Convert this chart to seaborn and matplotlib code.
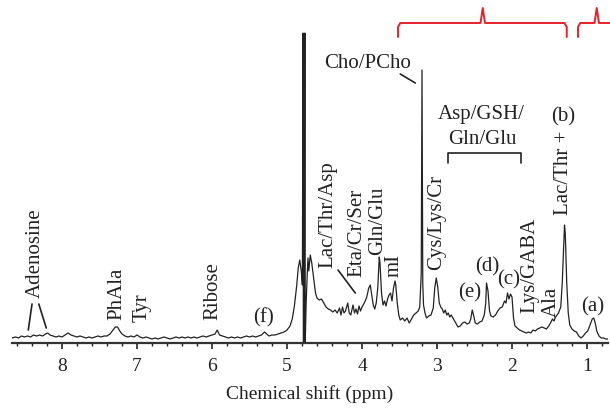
import numpy as np
import pandas as pd
import matplotlib
matplotlib.use("Agg")
import matplotlib.pyplot as plt
import seaborn as sns

# spectrum, region by region (ppm, intensity a.u.)
shift_arom = [8.67, 8.62, 8.58, 8.54, 8.50, 8.46, 8.42, 8.38, 8.34, 8.30, 8.26, 8.22, 8.19, 8.16,
              8.12, 8.08, 8.04, 8.00, 7.96, 7.92, 7.88, 7.84, 7.80, 7.76, 7.72, 7.68, 7.64, 7.60,
              7.56, 7.52, 7.48, 7.44, 7.40, 7.36, 7.32, 7.29, 7.26, 7.23, 7.20, 7.16, 7.12, 7.08,
              7.04, 7.00, 6.96, 6.92, 6.88, 6.84, 6.80, 6.76, 6.72, 6.68, 6.64, 6.60, 6.56, 6.52,
              6.48, 6.44, 6.40, 6.36, 6.32, 6.28, 6.24, 6.20, 6.16, 6.12, 6.08, 6.04, 6.00, 5.96,
              5.93, 5.90, 5.86, 5.82, 5.78, 5.74, 5.70, 5.66, 5.62, 5.58, 5.54, 5.50, 5.46, 5.42,
              5.38, 5.34, 5.30, 5.27, 5.24, 5.20, 5.16, 5.12, 5.08, 5.04, 5.00]
int_arom = [5, 6, 5, 7, 6, 7, 6, 8, 7, 8, 7, 9, 10, 8,
            7, 6, 7, 6, 8, 10, 8, 7, 6, 7, 6, 5, 6, 5,
            6, 7, 6, 7, 7, 9, 13, 16, 16, 12, 9, 7, 6, 7,
            6, 8, 6, 5, 6, 5, 4, 5, 4, 5, 6, 5, 4, 5,
            6, 5, 6, 5, 6, 5, 6, 5, 6, 7, 6, 7, 8, 9,
            13, 8, 7, 6, 5, 6, 5, 6, 5, 6, 7, 6, 7, 6,
            7, 8, 11, 9, 7, 8, 8, 9, 10, 11, 13]

shift_water = [4.96, 4.93, 4.90, 4.87, 4.85, 4.83, 4.81, 4.795, 4.787, 4.782, 4.770, 4.762,
               4.757, 4.745, 4.73, 4.72, 4.71, 4.69, 4.67]
int_water = [17, 24, 38, 58, 75, 83, 72, 58, 310, 0, 0, 310,
             0, 40, 70, 85, 72, 88, 80]

shift_mid = [4.65, 4.62, 4.60, 4.57, 4.54, 4.51, 4.48, 4.45, 4.42, 4.39, 4.36, 4.33, 4.30, 4.28,
             4.26, 4.24, 4.22, 4.19, 4.17, 4.15, 4.12, 4.10, 4.08, 4.06, 4.04, 4.02, 4.00, 3.97,
             3.94, 3.91, 3.89, 3.87, 3.85, 3.83, 3.81, 3.79, 3.77, 3.76, 3.74, 3.72, 3.70, 3.68,
             3.66, 3.64, 3.62, 3.60, 3.58, 3.56, 3.55, 3.53, 3.51, 3.49, 3.46, 3.43, 3.40, 3.37,
             3.34, 3.31, 3.28, 3.25, 3.23, 3.21, 3.20, 3.19, 3.18, 3.16, 3.14, 3.11, 3.08, 3.05,
             3.03, 3.01, 2.99, 2.97]
int_mid = [68, 50, 45, 43, 44, 40, 36, 34, 33, 31, 33, 30, 35, 28,
           36, 30, 32, 40, 30, 28, 38, 30, 34, 29, 37, 32, 36, 40,
           45, 55, 58, 48, 38, 34, 40, 55, 86, 80, 50, 38, 42, 37,
           44, 48, 50, 42, 55, 62, 58, 40, 28, 23, 25, 22, 25, 20,
           24, 28, 30, 32, 36, 70, 273, 60, 38, 30, 25, 27, 28, 35,
           55, 65, 56, 40]

shift_ali = [2.95, 2.93, 2.91, 2.89, 2.87, 2.85, 2.83, 2.81, 2.78, 2.75, 2.72, 2.69, 2.66, 2.63,
             2.60, 2.57, 2.55, 2.53, 2.51, 2.49, 2.46, 2.43, 2.40, 2.37, 2.35, 2.34, 2.32, 2.30,
             2.28, 2.25, 2.22, 2.19, 2.16, 2.13, 2.10, 2.08, 2.06, 2.04, 2.02, 2.00, 1.98, 1.96,
             1.93, 1.90, 1.87, 1.84, 1.81, 1.78, 1.75, 1.72, 1.69, 1.66, 1.63, 1.60, 1.57, 1.54,
             1.51, 1.48, 1.46, 1.44, 1.42, 1.40, 1.38, 1.35, 1.33, 1.31, 1.30, 1.29, 1.27, 1.25,
             1.23, 1.20, 1.17, 1.14, 1.11, 1.08, 1.05, 1.02, 0.99, 0.96, 0.93, 0.91, 0.89, 0.87,
             0.84, 0.81, 0.78, 0.75, 0.72]
int_ali = [36, 34, 30, 33, 28, 30, 26, 28, 24, 20, 16, 17, 20, 21,
           19, 20, 24, 33, 27, 20, 19, 21, 22, 28, 40, 60, 52, 32,
           27, 26, 28, 32, 35, 36, 42, 40, 50, 44, 49, 46, 25, 17,
           15, 13, 12, 11, 10, 11, 10, 13, 12, 14, 15, 16, 15, 14,
           17, 21, 24, 22, 26, 28, 30, 36, 60, 100, 118, 110, 60, 30,
           18, 14, 12, 11, 7, 5, 7, 10, 12, 18, 24, 25, 20, 12,
           7, 5, 5, 4, 4]

# labels: text, ppm, intensity, rotated?
label_text = ["Adenosine", "PhAla", "Tyr", "Ribose", "(f)", "Lac/Thr/Asp", "Eta/Cr/Ser",
              "Gln/Glu", "mI", "Cho/PCho", "Asp/GSH/", "Gln/Glu", "Cys/Lys/Cr", "(e)",
              "(d)", "(c)", "Lys/GABA", "Ala", "Lac/Thr +", "(b)", "(a)"]
label_ppm = [8.35, 7.27, 6.93, 5.99, 5.32, 4.45, 4.07, 3.79, 3.57, 3.92, 2.41, 2.39,
             3.00, 2.56, 2.33, 2.05, 1.76, 1.47, 1.32, 1.32, 0.92]
label_int = [45, 23, 21, 23, 25, 75, 66, 88, 66, 280, 229, 204, 73, 50, 76, 63, 30, 26,
             128, 226, 36]
label_rot = [1, 1, 1, 1, 0, 1, 1, 1, 1, 0, 0, 0, 1, 0, 0, 0, 1, 1, 1, 0, 0]

# pointer lines (ppm0, int0, ppm1, int1)
pointers = [(8.40, 39, 8.45, 13), (8.31, 39, 8.21, 15), (4.32, 73, 4.09, 50),
            (3.49, 269, 3.29, 260)]
bracket_ppm = [2.85, 1.88]
bracket_int = [180, 190]

# red braces: start, end, tip (ppm)
braces = [(3.52, 1.27, 2.39), (1.12, 0.62, 0.87)]

df = pd.DataFrame({
    "shift": shift_arom + shift_water + shift_mid + shift_ali,
    "intensity": int_arom + int_water + int_mid + int_ali,
})

sns.set_style("ticks")
plt.rcParams["font.family"] = ["Liberation Serif", "DejaVu Serif"]
ink = "#222222"

fig = plt.figure(figsize=(6.1, 4.08), dpi=100)
ax = fig.add_axes([12 / 610, 65 / 408, 596 / 610, 338 / 408])

sns.lineplot(data=df, x="shift", y="intensity", sort=False, estimator=None,
             color=ink, lw=0.9, ax=ax)

for t, p, v, r in zip(label_text, label_ppm, label_int, label_rot):
    if r:
        ax.text(p, v, t, rotation=90, ha="center", va="bottom", fontsize=15, color=ink)
    else:
        ax.text(p, v, t, ha="center", va="center", fontsize=15, color=ink)

for x0, y0, x1, y1 in pointers:
    ax.plot([x0, x1], [y0, y1], color=ink, lw=1.2)

b0, b1 = bracket_ppm
ax.plot([b0, b0, b1, b1], [bracket_int[0], bracket_int[1], bracket_int[1], bracket_int[0]],
        color=ink, lw=1.2)

hb, hm, ht = 306, 320, 335
d = 0.03
for x0, x1, tip in braces:
    xs = [x0, x0, x0 - d, tip + d, tip, tip - d, x1 + d, x1, x1]
    ys = [hb, hm - 4, hm, hm, ht, hm, hm, hm - 4, hb]
    ax.plot(xs, ys, color="#e8202a", lw=1.4, clip_on=False)

ax.set_xlim(8.667, 0.72)
ax.set_ylim(0, 338)
ax.set_xticks(range(1, 9))
ax.set_xticks(np.arange(0.8, 8.7, 0.2), minor=True)
ax.set_yticks([])
ax.set_ylabel("")
ax.set_xlabel("Chemical shift (ppm)", fontsize=14, color=ink, labelpad=7)
ax.tick_params(axis="x", which="major", direction="out", length=4, width=1.2,
               labelsize=14, pad=7, colors=ink)
ax.tick_params(axis="x", which="minor", direction="out", length=2.2, width=1.0, colors=ink)
sns.despine(ax=ax, left=True, top=True, right=True)
ax.spines["bottom"].set_linewidth(1.6)
ax.spines["bottom"].set_color("#333333")
ax.patch.set_alpha(0)

fig.savefig("out.png", dpi=100)
